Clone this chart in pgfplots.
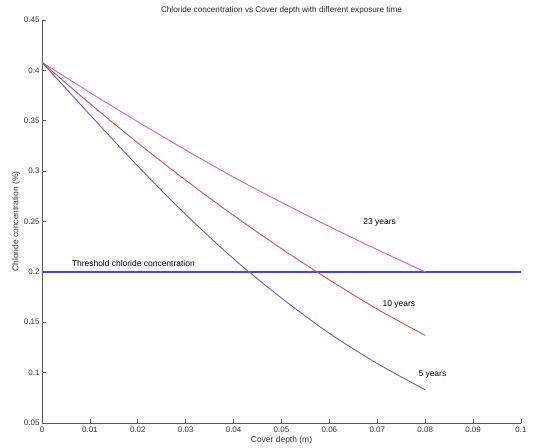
\documentclass[border=0pt]{standalone}
\usepackage{fontspec}
\setmainfont{Liberation Sans}
\usepackage{pgfplots}
\pgfplotsset{compat=1.18}
\definecolor{lineblue}{RGB}{95,95,215}
\definecolor{thrblue}{RGB}{70,70,225}
\definecolor{linered}{RGB}{215,80,80}
\definecolor{linemag}{RGB}{220,90,220}
\definecolor{axgray}{RGB}{90,90,90}

\begin{document}
\begin{tikzpicture}
  \begin{axis}[
    scale only axis,
    width=479bp, height=403bp,
    xmin=0, xmax=0.1, ymin=0.05, ymax=0.45,
    axis lines=left,
    axis line style={-, axgray, line width=0.8bp},
    tick align=inside,
    major tick length=4bp,
    tick style={axgray, line width=0.7bp},
    xtick={0,0.01,0.02,0.03,0.04,0.05,0.06,0.07,0.08,0.09,0.1},
    xticklabels={0,0.01,0.02,0.03,0.04,0.05,0.06,0.07,0.08,0.09,0.1},
    ytick={0.05,0.1,0.15,0.2,0.25,0.3,0.35,0.4,0.45},
    yticklabels={0.05,0.1,0.15,0.2,0.25,0.3,0.35,0.4,0.45},
    tick label style={font=\fontsize{8}{9}\selectfont, text=black!80},
    yticklabel style={xshift=1bp},
    xlabel={Cover depth (m)},
    ylabel={Chloride concentration (\%)},
    label style={font=\fontsize{8.5}{10}\selectfont, text=black!80},
    xlabel style={yshift=3bp},
    ylabel style={yshift=-3bp},
    title={Chloride concentration vs Cover depth with different exposure time},
    title style={font=\fontsize{8.2}{10}\selectfont, text=black!85, yshift=-4bp},
    clip=false,
  ]
  % threshold
  \addplot[thrblue, line width=1.3bp] coordinates {(0,0.2) (0.1,0.2)};
  % 23 years
  \addplot[linemag, line width=0.9bp, smooth] coordinates {
    (0,0.408) (0.01,0.378) (0.02,0.349) (0.03,0.321) (0.04,0.294)
    (0.05,0.269) (0.06,0.245) (0.07,0.222) (0.08,0.200)};
  % 10 years
  \addplot[linered, line width=0.9bp, smooth] coordinates {
    (0,0.408) (0.01,0.367) (0.02,0.328) (0.03,0.291) (0.04,0.256)
    (0.05,0.223) (0.06,0.192) (0.07,0.163) (0.08,0.137)};
  % 5 years
  \addplot[lineblue, line width=0.9bp, smooth] coordinates {
    (0,0.408) (0.01,0.356) (0.02,0.305) (0.03,0.257) (0.04,0.213)
    (0.05,0.174) (0.06,0.139) (0.07,0.109) (0.08,0.083)};
  \node[font=\fontsize{8.5}{10}\selectfont, anchor=west, inner xsep=0pt] at (axis cs:0.0062,0.208) {Threshold chloride concentration};
  \node[font=\fontsize{8.5}{10}\selectfont] at (axis cs:0.0705,0.249) {23 years};
  \node[font=\fontsize{8.5}{10}\selectfont] at (axis cs:0.0745,0.168) {10 years};
  \node[font=\fontsize{8.5}{10}\selectfont] at (axis cs:0.0815,0.098) {5 years};
  \end{axis}
  \pgfresetboundingbox
  \path ([shift={(-42bp,-25bp)}]current axis.south west) rectangle ([shift={(26bp,20bp)}]current axis.north east);
\end{tikzpicture}
\end{document}
